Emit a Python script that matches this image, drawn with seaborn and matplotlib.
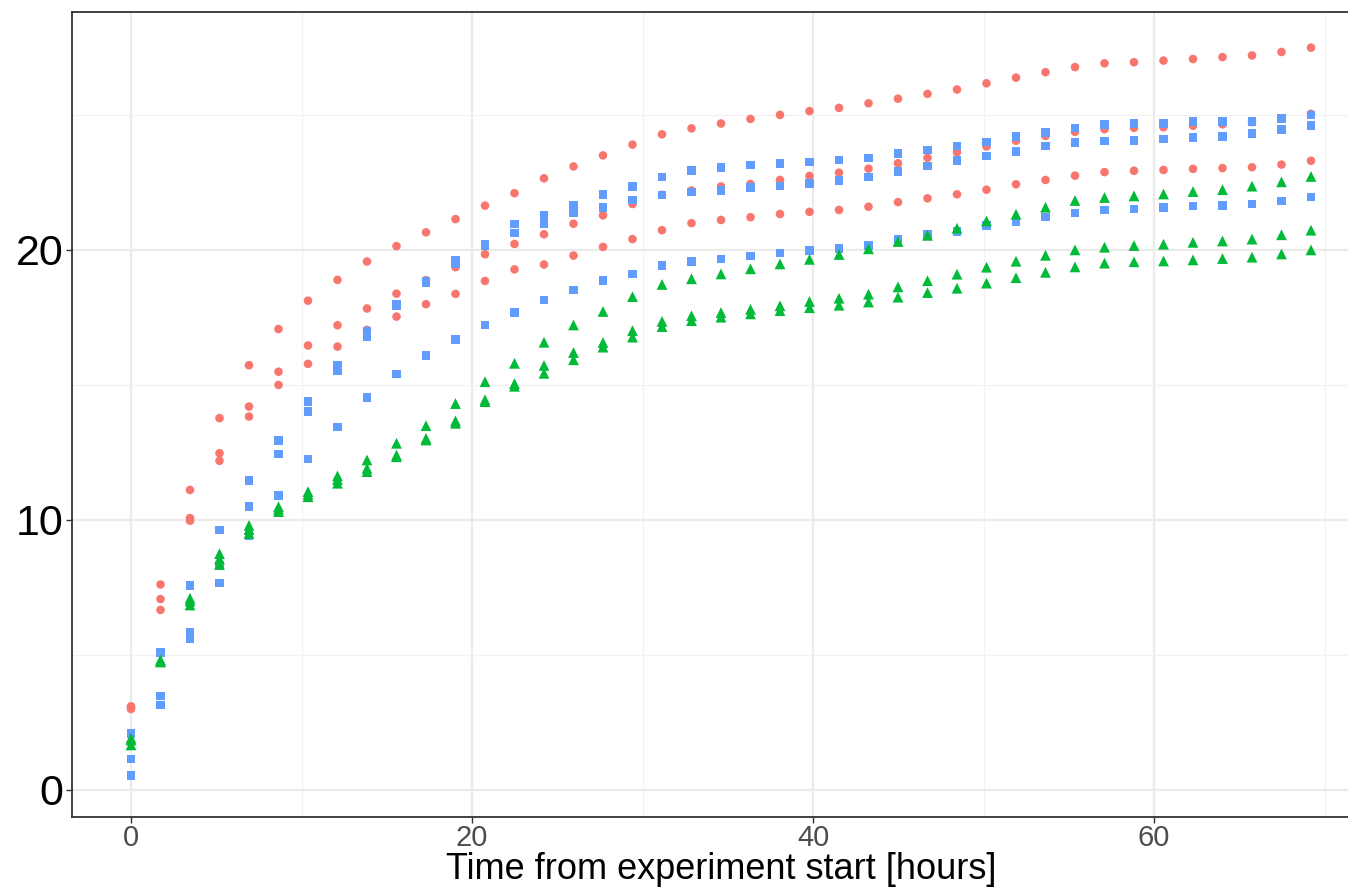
import numpy as np
import pandas as pd
import matplotlib
matplotlib.use("Agg")
import matplotlib.pyplot as plt
from matplotlib.ticker import MultipleLocator
import seaborn as sns

# ------------------------------
# Data
# ------------------------------
hours = [0.00, 1.73, 3.46, 5.19, 6.92, 8.65, 10.38, 12.11, 13.84, 15.57,
         17.30, 19.03, 20.76, 22.49, 24.22, 25.95, 27.68, 29.41, 31.14, 32.87,
         34.60, 36.33, 38.06, 39.79, 41.52, 43.25, 44.98, 46.71, 48.44, 50.17,
         51.90, 53.63, 55.36, 57.09, 58.82, 60.55, 62.28, 64.01, 65.74, 67.47,
         69.20]

# red circles (group A)
red_1 = [3.10, 7.61, 11.11, 13.77, 15.73, 17.07, 18.12, 18.89, 19.57, 20.14,
         20.65, 21.14, 21.64, 22.10, 22.65, 23.09, 23.50, 23.90, 24.28, 24.50,
         24.68, 24.85, 25.00, 25.14, 25.26, 25.43, 25.60, 25.78, 25.94, 26.17,
         26.38, 26.58, 26.77, 26.91, 26.95, 27.01, 27.07, 27.14, 27.20, 27.33,
         27.49]
red_2 = [3.05, 7.07, 10.07, 12.47, 14.20, 15.49, 16.46, 17.21, 17.83, 18.38,
         18.88, 19.36, 19.84, 20.22, 20.58, 20.97, 21.28, 21.70, 22.04, 22.20,
         22.35, 22.44, 22.59, 22.74, 22.86, 23.01, 23.21, 23.41, 23.62, 23.83,
         24.04, 24.22, 24.37, 24.47, 24.52, 24.54, 24.60, 24.65, 24.73, 24.86,
         25.04]
red_3 = [3.00, 6.67, 9.97, 12.19, 13.83, 15.00, 15.78, 16.42, 17.04, 17.53,
         17.99, 18.37, 18.85, 19.28, 19.46, 19.79, 20.11, 20.40, 20.73, 20.99,
         21.11, 21.21, 21.33, 21.41, 21.48, 21.60, 21.77, 21.91, 22.06, 22.23,
         22.43, 22.59, 22.75, 22.88, 22.93, 22.96, 23.00, 23.03, 23.06, 23.16,
         23.30]

# blue squares (group B)
blue_1 = [2.10, 5.09, 7.57, 9.63, 11.46, 12.94, 14.38, 15.74, 16.97, 17.98,
          18.84, 19.60, 20.22, 20.96, 21.27, 21.65, 22.06, 22.35, 22.70, 22.95,
          23.05, 23.14, 23.20, 23.26, 23.33, 23.41, 23.56, 23.70, 23.85, 24.00,
          24.20, 24.35, 24.51, 24.65, 24.69, 24.69, 24.75, 24.75, 24.75, 24.86,
          24.99]
blue_2 = [1.14, 3.48, 5.85, 8.33, 10.49, 12.44, 14.01, 15.53, 16.80, 17.92,
          18.78, 19.50, 20.15, 20.62, 20.96, 21.36, 21.58, 21.85, 22.04, 22.15,
          22.21, 22.31, 22.36, 22.46, 22.56, 22.70, 22.90, 23.11, 23.31, 23.48,
          23.65, 23.84, 23.97, 24.04, 24.05, 24.10, 24.16, 24.21, 24.31, 24.46,
          24.60]
blue_3 = [0.53, 3.15, 5.60, 7.67, 9.41, 10.90, 12.25, 13.44, 14.54, 15.40,
          16.09, 16.69, 17.22, 17.68, 18.15, 18.52, 18.86, 19.11, 19.42, 19.57,
          19.67, 19.77, 19.88, 19.97, 20.06, 20.16, 20.41, 20.57, 20.69, 20.90,
          21.06, 21.22, 21.37, 21.47, 21.52, 21.57, 21.62, 21.64, 21.70, 21.81,
          21.96]

# green triangles (group C)
green_1 = [1.92, 4.82, 7.10, 8.75, 9.80, 10.49, 11.05, 11.63, 12.22, 12.84,
           13.49, 14.31, 15.12, 15.80, 16.58, 17.22, 17.72, 18.27, 18.72, 18.93,
           19.11, 19.30, 19.48, 19.65, 19.83, 20.04, 20.31, 20.54, 20.80, 21.07,
           21.32, 21.58, 21.83, 21.94, 22.00, 22.07, 22.16, 22.23, 22.36, 22.52,
           22.72]
green_2 = [1.85, 4.78, 7.00, 8.55, 9.65, 10.40, 10.95, 11.50, 11.91, 12.40,
           13.02, 13.67, 14.45, 15.05, 15.72, 16.20, 16.57, 17.01, 17.35, 17.56,
           17.68, 17.80, 17.93, 18.09, 18.21, 18.36, 18.63, 18.86, 19.10, 19.36,
           19.58, 19.80, 20.00, 20.10, 20.16, 20.21, 20.28, 20.33, 20.40, 20.56,
           20.73]
green_3 = [1.67, 4.74, 6.85, 8.35, 9.50, 10.31, 10.86, 11.36, 11.79, 12.34,
           12.96, 13.58, 14.38, 14.95, 15.43, 15.93, 16.40, 16.77, 17.16, 17.38,
           17.51, 17.63, 17.75, 17.86, 17.95, 18.07, 18.25, 18.42, 18.58, 18.77,
           18.97, 19.17, 19.37, 19.51, 19.56, 19.59, 19.63, 19.68, 19.73, 19.85,
           20.00]

groups = ["A", "B", "C"]
colors = {"A": "#F8766D", "B": "#619CFF", "C": "#00BA38"}
markers = {"A": "o", "B": "s", "C": "^"}
marker_sizes = {"A": 38, "B": 38, "C": 60}

# ------------------------------
# Long format table
# ------------------------------
series = {
    ("A", 1): red_1, ("A", 2): red_2, ("A", 3): red_3,
    ("B", 1): blue_1, ("B", 2): blue_2, ("B", 3): blue_3,
    ("C", 1): green_1, ("C", 2): green_2, ("C", 3): green_3,
}
rows = []
for (grp, rep), vals in series.items():
    for t, v in zip(hours, vals):
        rows.append({"time": t, "value": v, "group": grp, "rep": rep})
df = pd.DataFrame(rows)

# ------------------------------
# Plot
# ------------------------------
sns.set_style("white")
plt.rcParams["font.family"] = ["Liberation Sans", "DejaVu Sans"]

fig = plt.figure(figsize=(13.48, 8.88), dpi=100)
ax = fig.add_axes([72 / 1348, 1 - 817 / 888, (1370 - 72) / 1348, (817 - 12) / 888])

sns.scatterplot(data=df, x="time", y="value", hue="group", style="group",
                size="group", sizes=marker_sizes, size_order=groups,
                palette=colors, markers=markers, hue_order=groups,
                style_order=groups, linewidth=0, legend=False, ax=ax,
                zorder=3)

ax.set_xlim(-3.46, 72.66)
ax.set_ylim(-1.0, 28.81)

ax.xaxis.set_major_locator(MultipleLocator(20))
ax.xaxis.set_minor_locator(MultipleLocator(10))
ax.yaxis.set_major_locator(MultipleLocator(10))
ax.yaxis.set_minor_locator(MultipleLocator(5))

ax.grid(which="major", color="#EBEBEB", linewidth=1.6, zorder=0)
ax.grid(which="minor", color="#F2F2F2", linewidth=0.9, zorder=0)
ax.set_axisbelow(True)

for side in ["left", "bottom", "top"]:
    ax.spines[side].set_color("#333333")
    ax.spines[side].set_linewidth(1.3)
ax.spines["right"].set_visible(False)

ax.tick_params(axis="both", which="major", length=4, width=1.0,
               color="#333333", direction="out")
ax.tick_params(axis="both", which="minor", length=0)
ax.tick_params(axis="x", labelsize=21, labelcolor="#4D4D4D", pad=1)
ax.tick_params(axis="y", labelsize=31, labelcolor="black", pad=2)
ax.xaxis.set_ticks_position("bottom")
ax.yaxis.set_ticks_position("left")

ax.set_xlabel("Time from experiment start [hours]", fontsize=26,
              color="black", labelpad=0)
ax.set_ylabel("")

fig.savefig("out.png", dpi=100)
